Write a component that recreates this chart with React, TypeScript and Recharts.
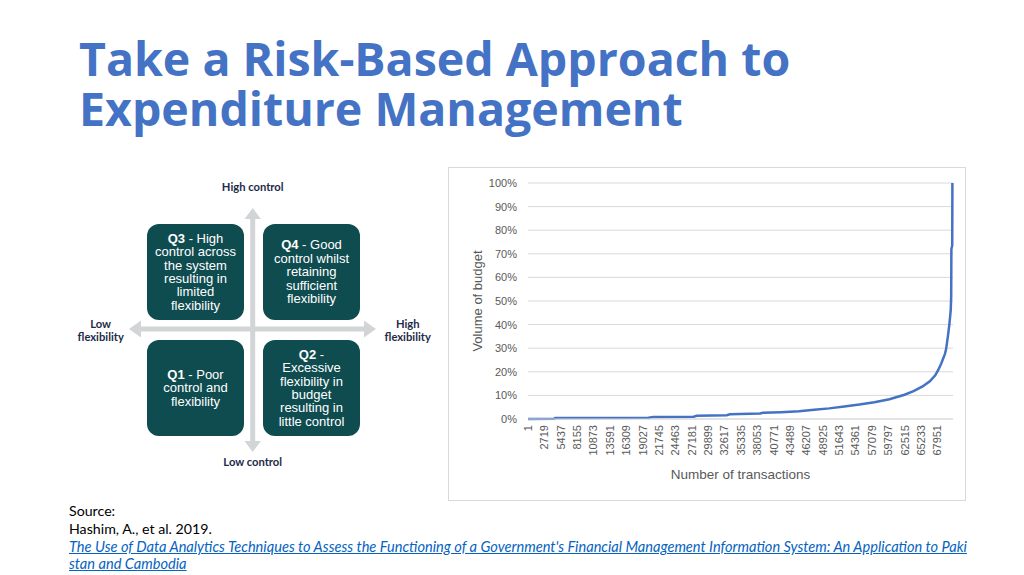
import React from 'react';
import { LineChart, Line, XAxis, YAxis, CartesianGrid } from 'recharts';

// ---- chart data ----
const transactions = [
  1, 4300, 4500, 20000, 20800, 27500, 28000, 33000, 33500, 38500, 39000, 42000,
  45000, 47500, 50000, 52500, 55000, 57500, 60000, 62500, 64000, 65500, 66700,
  67600, 68100, 68600, 68900, 69200, 69400, 69700, 69940, 70170, 70250, 70280,
  70420, 70450,
];
const budgetShare = [
  0.0, 0.1, 0.4, 0.5, 0.9, 1.0, 1.4, 1.6, 2.0, 2.3, 2.6, 2.9,
  3.3, 3.9, 4.5, 5.3, 6.1, 7.1, 8.4, 10.3, 11.8, 13.8, 16.0,
  18.5, 20.8, 23.5, 25.5, 27.5, 29.5, 35.0, 40.0, 46.0, 52.0, 72.0,
  73.5, 100,
];
const xTickLabels = [
  1, 2719, 5437, 8155, 10873, 13591, 16309, 19027, 21745, 24463, 27181, 29899,
  32617, 35335, 38053, 40771, 43489, 46207, 48925, 51643, 54361, 57079, 59797,
  62515, 65233, 67951,
];
const yTickValues = [0, 10, 20, 30, 40, 50, 60, 70, 80, 90, 100];
const xDomainMax = 70549;

const data = transactions.map((n, i) => ({ n, v: budgetShare[i] }));

const axisFont = '"Liberation Sans", Arial, sans-serif';
const axisGray = '#595959';

function XTick(props: any) {
  const { x, y, payload } = props;
  return (
    <text
      x={x}
      y={y}
      transform={`rotate(-90, ${x}, ${y})`}
      textAnchor="end"
      dominantBaseline="central"
      fontSize={11}
      fill={axisGray}
      fontFamily={axisFont}
    >
      {payload.value}
    </text>
  );
}

function YTitle(props: any) {
  const vb = props.viewBox || { x: 0, y: 0, width: 0, height: 0 };
  const cx = vb.x + 29;
  const cy = vb.y + vb.height / 2;
  return (
    <text
      x={cx}
      y={cy}
      transform={`rotate(-90, ${cx}, ${cy})`}
      textAnchor="middle"
      dominantBaseline="central"
      fontSize={13}
      fill={axisGray}
      fontFamily={axisFont}
    >
      Volume of budget
    </text>
  );
}

function XTitle(props: any) {
  const vb = props.viewBox || { x: 0, y: 0, width: 0, height: 0 };
  return (
    <text
      x={vb.x + vb.width / 2}
      y={vb.y + 55}
      textAnchor="middle"
      dominantBaseline="central"
      fontSize={13.5}
      fill={axisGray}
      fontFamily={axisFont}
    >
      Number of transactions
    </text>
  );
}

// ---- quadrant diagram ----
const boxStyle = (left: number, top: number): React.CSSProperties => ({
  position: 'absolute',
  left,
  top,
  width: 97,
  height: 96,
  borderRadius: 12,
  background: '#0f4c50',
  color: '#ffffff',
  display: 'flex',
  alignItems: 'center',
  justifyContent: 'center',
  textAlign: 'center',
  fontFamily: '"Liberation Sans", Arial, sans-serif',
  fontSize: 13,
  lineHeight: '13.4px',
});

const labelStyle = (cx: number, cy: number): React.CSSProperties => ({
  position: 'absolute',
  left: cx - 60,
  top: cy - 7,
  width: 120,
  textAlign: 'center',
  fontFamily: 'Lato, sans-serif',
  fontWeight: 700,
  fontSize: 11.2,
  lineHeight: '13px',
  color: '#1d2a48',
});

function Box({ left, top, q, lines }: { left: number; top: number; q: string; lines: string[] }) {
  return (
    <div style={boxStyle(left, top)}>
      <div>
        {lines.map((l, i) => (
          <div key={i}>
            {i === 0 ? (
              <>
                <b>{q}</b>
                {l}
              </>
            ) : (
              l
            )}
          </div>
        ))}
      </div>
    </div>
  );
}

const titleLine: React.CSSProperties = {
  position: 'absolute',
  left: 79,
  fontFamily: '"Open Sans", sans-serif',
  fontWeight: 700,
  fontSize: 46.5,
  lineHeight: '46px',
  color: '#4472c4',
  whiteSpace: 'nowrap',
};

export default function App() {
  const arrow = '#d2d5d5';
  return (
    <div
      style={{
        position: 'absolute',
        left: 0,
        top: 0,
        width: 1024,
        height: 575,
        overflow: 'hidden',
        background: '#ffffff',
      }}
    >
      {/* Title */}
      <div style={{ ...titleLine, top: 35 }}>Take a Risk-Based Approach to</div>
      <div style={{ ...titleLine, top: 85 }}>Expenditure Management</div>

      {/* Quadrant arrows */}
      <svg
        width={1024}
        height={575}
        style={{ position: 'absolute', left: 0, top: 0 }}
      >
        <rect x={250.2} y={218} width={5} height={224} fill={arrow} />
        <polygon points="252.7,208 244.5,219 260.9,219" fill={arrow} />
        <polygon points="252.7,452 244.5,441 260.9,441" fill={arrow} />
        <rect x={140} y={326.5} width={225} height={5} fill={arrow} />
        <polygon points="129,329 141,320.5 141,337.5" fill={arrow} />
        <polygon points="376,329 364,320.5 364,337.5" fill={arrow} />
      </svg>

      <div style={labelStyle(252.7, 186.7)}>High control</div>
      <div style={labelStyle(252.7, 461.7)}>Low control</div>
      <div style={{ ...labelStyle(100.7, 324), top: 317 }}>
        Low
        <br />
        flexibility
      </div>
      <div style={{ ...labelStyle(407.7, 324), top: 317 }}>
        High
        <br />
        flexibility
      </div>

      <Box left={147} top={224} q="Q3" lines={[' - High', 'control across', 'the system', 'resulting in', 'limited', 'flexibility']} />
      <Box left={263} top={224} q="Q4" lines={[' - Good', 'control whilst', 'retaining', 'sufficient', 'flexibility']} />
      <Box left={147} top={340} q="Q1" lines={[' - Poor', 'control and', 'flexibility']} />
      <Box left={263} top={340} q="Q2" lines={[' -', 'Excessive', 'flexibility in', 'budget', 'resulting in', 'little control']} />

      {/* Chart frame */}
      <div
        style={{
          position: 'absolute',
          left: 448,
          top: 167,
          width: 518,
          height: 334,
          border: '1px solid #d9d9d9',
          boxSizing: 'border-box',
          background: '#ffffff',
        }}
      />
      <div style={{ position: 'absolute', left: 448, top: 167 }}>
        <LineChart
          width={518}
          height={334}
          data={data}
          margin={{ top: 16, right: 13, left: 0, bottom: 0 }}
        >
          <CartesianGrid vertical={false} stroke="#d9d9d9" strokeWidth={1} />
          <XAxis
            dataKey="n"
            type="number"
            domain={[1, xDomainMax]}
            ticks={xTickLabels}
            interval={0}
            tick={<XTick />}
            tickLine={false}
            tickSize={0}
            tickMargin={6}
            axisLine={{ stroke: '#d9d9d9' }}
            height={82}
            label={<XTitle />}
          />
          <YAxis
            type="number"
            domain={[0, 100]}
            ticks={yTickValues}
            tickFormatter={(v: number) => `${v}%`}
            axisLine={false}
            tickLine={false}
            tickSize={0}
            tickMargin={11}
            width={80}
            tick={{ fontSize: 11, fill: axisGray, fontFamily: axisFont }}
            label={<YTitle />}
          />
          <Line
            type="linear"
            dataKey="v"
            stroke="#4472c4"
            strokeWidth={2.5}
            dot={false}
            isAnimationActive={false}
          />
        </LineChart>
      </div>

      {/* Source */}
      <div
        style={{
          position: 'absolute',
          left: 69,
          top: 502,
          fontFamily: 'Lato, sans-serif',
          fontSize: 14.2,
          lineHeight: '18px',
          color: '#000000',
          whiteSpace: 'nowrap',
        }}
      >
        <div>Source:</div>
        <div>Hashim, A., et al. 2019.</div>
        <div style={{ fontStyle: 'italic', color: '#0563c1', textDecoration: 'underline', fontSize: 14.6 }}>
          The Use of Data Analytics Techniques to Assess the Functioning of a Government's Financial Management Information System: An Application to Paki
        </div>
        <div style={{ fontStyle: 'italic', color: '#0563c1', textDecoration: 'underline', fontSize: 14.6, lineHeight: '15px' }}>
          stan and Cambodia
        </div>
      </div>
    </div>
  );
}
